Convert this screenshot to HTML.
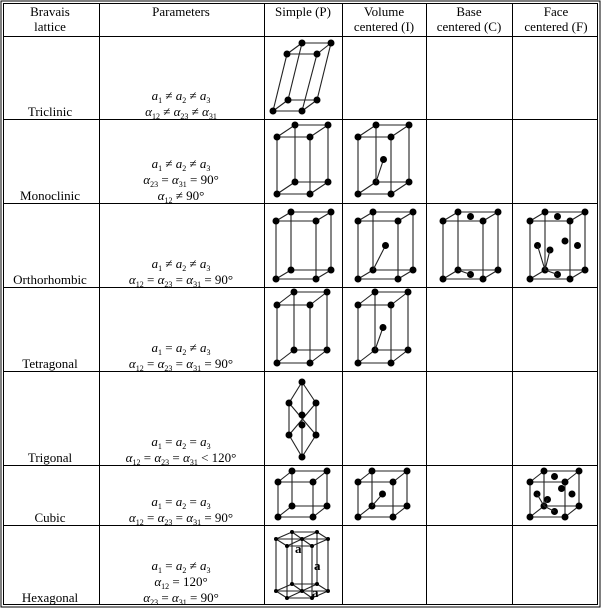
<!DOCTYPE html>
<html><head><meta charset="utf-8"><style>
html,body{margin:0;padding:0;background:#fff}
svg{display:block}
text{font-family:"Liberation Serif",serif;font-size:13px;fill:#000}
.c{text-anchor:middle}
.m{font-style:italic}
</style></head><body>
<svg id="s" width="602" height="609" viewBox="0 0 602 609">
<g id="grid" stroke="#000" fill="none">
<rect x="1" y="1" width="599" height="606" stroke-width="1"/>
<rect x="3.5" y="3.5" width="594" height="601" stroke-width="1"/>
<g stroke-width="1">
<line x1="99.5" y1="3" x2="99.5" y2="605"/><line x1="264.5" y1="3" x2="264.5" y2="605"/>
<line x1="342.5" y1="3" x2="342.5" y2="605"/><line x1="426.5" y1="3" x2="426.5" y2="605"/>
<line x1="512.5" y1="3" x2="512.5" y2="605"/>
<line x1="3" y1="36.5" x2="598" y2="36.5"/><line x1="3" y1="119.5" x2="598" y2="119.5"/>
<line x1="3" y1="203.5" x2="598" y2="203.5"/><line x1="3" y1="287.5" x2="598" y2="287.5"/>
<line x1="3" y1="371.5" x2="598" y2="371.5"/><line x1="3" y1="465.5" x2="598" y2="465.5"/>
<line x1="3" y1="525.5" x2="598" y2="525.5"/>
</g></g>
<g>
<text class="c" x="50" y="16">Bravais</text><text class="c" x="50" y="31">lattice</text>
<text class="c" x="181" y="16">Parameters</text>
<text class="c" x="303" y="16">Simple (P)</text>
<text class="c" x="384" y="16">Volume</text><text class="c" x="384" y="31">centered (I)</text>
<text class="c" x="469" y="16">Base</text><text class="c" x="469" y="31">centered (C)</text>
<text class="c" x="556" y="16">Face</text><text class="c" x="556" y="31">centered (F)</text>
</g>
<g>
<text class="c" x="50" y="116">Triclinic</text>
<text class="c" x="50" y="200">Monoclinic</text>
<text class="c" x="50" y="284">Orthorhombic</text>
<text class="c" x="50" y="368">Tetragonal</text>
<text class="c" x="50" y="462">Trigonal</text>
<text class="c" x="50" y="522">Cubic</text>
<text class="c" x="50" y="602">Hexagonal</text>
</g>
<g>
<text class="c" x="181" y="100"><tspan class="m">a</tspan><tspan font-size="8" dy="3">1</tspan><tspan dy="-3"> ≠ </tspan><tspan class="m">a</tspan><tspan font-size="8" dy="3">2</tspan><tspan dy="-3"> ≠ </tspan><tspan class="m">a</tspan><tspan font-size="8" dy="3">3</tspan></text>
<text class="c" x="181" y="116"><tspan class="m">α</tspan><tspan font-size="8" dy="3">12</tspan><tspan dy="-3"> ≠ </tspan><tspan class="m">α</tspan><tspan font-size="8" dy="3">23</tspan><tspan dy="-3"> ≠ </tspan><tspan class="m">α</tspan><tspan font-size="8" dy="3">31</tspan></text>

<text class="c" x="181" y="168"><tspan class="m">a</tspan><tspan font-size="8" dy="3">1</tspan><tspan dy="-3"> ≠ </tspan><tspan class="m">a</tspan><tspan font-size="8" dy="3">2</tspan><tspan dy="-3"> ≠ </tspan><tspan class="m">a</tspan><tspan font-size="8" dy="3">3</tspan></text>
<text class="c" x="181" y="184"><tspan class="m">α</tspan><tspan font-size="8" dy="3">23</tspan><tspan dy="-3"> = </tspan><tspan class="m">α</tspan><tspan font-size="8" dy="3">31</tspan><tspan dy="-3"> = 90°</tspan></text>
<text class="c" x="181" y="200"><tspan class="m">α</tspan><tspan font-size="8" dy="3">12</tspan><tspan dy="-3"> ≠ 90°</tspan></text>

<text class="c" x="181" y="268"><tspan class="m">a</tspan><tspan font-size="8" dy="3">1</tspan><tspan dy="-3"> ≠ </tspan><tspan class="m">a</tspan><tspan font-size="8" dy="3">2</tspan><tspan dy="-3"> ≠ </tspan><tspan class="m">a</tspan><tspan font-size="8" dy="3">3</tspan></text>
<text class="c" x="181" y="284"><tspan class="m">α</tspan><tspan font-size="8" dy="3">12</tspan><tspan dy="-3"> = </tspan><tspan class="m">α</tspan><tspan font-size="8" dy="3">23</tspan><tspan dy="-3"> = </tspan><tspan class="m">α</tspan><tspan font-size="8" dy="3">31</tspan><tspan dy="-3"> = 90°</tspan></text>

<text class="c" x="181" y="352"><tspan class="m">a</tspan><tspan font-size="8" dy="3">1</tspan><tspan dy="-3"> = </tspan><tspan class="m">a</tspan><tspan font-size="8" dy="3">2</tspan><tspan dy="-3"> ≠ </tspan><tspan class="m">a</tspan><tspan font-size="8" dy="3">3</tspan></text>
<text class="c" x="181" y="368"><tspan class="m">α</tspan><tspan font-size="8" dy="3">12</tspan><tspan dy="-3"> = </tspan><tspan class="m">α</tspan><tspan font-size="8" dy="3">23</tspan><tspan dy="-3"> = </tspan><tspan class="m">α</tspan><tspan font-size="8" dy="3">31</tspan><tspan dy="-3"> = 90°</tspan></text>

<text class="c" x="181" y="446"><tspan class="m">a</tspan><tspan font-size="8" dy="3">1</tspan><tspan dy="-3"> = </tspan><tspan class="m">a</tspan><tspan font-size="8" dy="3">2</tspan><tspan dy="-3"> = </tspan><tspan class="m">a</tspan><tspan font-size="8" dy="3">3</tspan></text>
<text class="c" x="181" y="462"><tspan class="m">α</tspan><tspan font-size="8" dy="3">12</tspan><tspan dy="-3"> = </tspan><tspan class="m">α</tspan><tspan font-size="8" dy="3">23</tspan><tspan dy="-3"> = </tspan><tspan class="m">α</tspan><tspan font-size="8" dy="3">31</tspan><tspan dy="-3"> &lt; 120°</tspan></text>

<text class="c" x="181" y="506"><tspan class="m">a</tspan><tspan font-size="8" dy="3">1</tspan><tspan dy="-3"> = </tspan><tspan class="m">a</tspan><tspan font-size="8" dy="3">2</tspan><tspan dy="-3"> = </tspan><tspan class="m">a</tspan><tspan font-size="8" dy="3">3</tspan></text>
<text class="c" x="181" y="522"><tspan class="m">α</tspan><tspan font-size="8" dy="3">12</tspan><tspan dy="-3"> = </tspan><tspan class="m">α</tspan><tspan font-size="8" dy="3">23</tspan><tspan dy="-3"> = </tspan><tspan class="m">α</tspan><tspan font-size="8" dy="3">31</tspan><tspan dy="-3"> = 90°</tspan></text>

<text class="c" x="181" y="570"><tspan class="m">a</tspan><tspan font-size="8" dy="3">1</tspan><tspan dy="-3"> = </tspan><tspan class="m">a</tspan><tspan font-size="8" dy="3">2</tspan><tspan dy="-3"> ≠ </tspan><tspan class="m">a</tspan><tspan font-size="8" dy="3">3</tspan></text>
<text class="c" x="181" y="586"><tspan class="m">α</tspan><tspan font-size="8" dy="3">12</tspan><tspan dy="-3"> = 120°</tspan></text>
<text class="c" x="181" y="602"><tspan class="m">α</tspan><tspan font-size="8" dy="3">23</tspan><tspan dy="-3"> = </tspan><tspan class="m">α</tspan><tspan font-size="8" dy="3">31</tspan><tspan dy="-3"> = 90°</tspan></text>
</g>
<g id="draw"></g>
<g>
<text x="295" y="553" font-size="5" font-weight="bold">a</text>
<text x="314" y="570" font-size="5" font-weight="bold">a</text>
<text x="312" y="597" font-size="5" font-weight="bold">a</text>
</g>
</svg>
<script>
const NS='http://www.w3.org/2000/svg';
const G=document.getElementById('draw');
function ln(a,b,c,d){const e=document.createElementNS(NS,'line');e.setAttribute('x1',a);e.setAttribute('y1',b);e.setAttribute('x2',c);e.setAttribute('y2',d);e.setAttribute('stroke','#222');e.setAttribute('stroke-width','1.1');G.appendChild(e);}
function dot(x,y,r){const e=document.createElementNS(NS,'circle');e.setAttribute('cx',x);e.setAttribute('cy',y);e.setAttribute('r',r||3.5);e.setAttribute('fill','#000');G.appendChild(e);}
function poly(pts){for(let i=0;i<pts.length;i++){const a=pts[i],b=pts[(i+1)%pts.length];ln(a[0],a[1],b[0],b[1]);}}
function box(fx,fy,w,h,dx,dy,type){
  const F=[[fx,fy],[fx+w,fy],[fx+w,fy+h],[fx,fy+h]];
  const B=F.map(p=>[p[0]+dx,p[1]+dy]);
  poly(F);poly(B);for(let i=0;i<4;i++)ln(F[i][0],F[i][1],B[i][0],B[i][1]);
  F.concat(B).forEach(p=>dot(p[0],p[1]));
  const o=[fx+dx,fy+h+dy];
  if(type==='I'){const c=[fx+w/2+dx/2,fy+h/2+dy/2];ln(o[0],o[1],c[0],c[1]);dot(c[0],c[1]);}
  if(type==='C'){dot(fx+w/2+dx/2,fy+dy/2);dot(fx+w/2+dx/2,fy+h+dy/2);ln(o[0],o[1],fx+w/2+dx/2,fy+h+dy/2);}
  if(type==='F'){
    [[fx+w/2+dx/2,fy+dy/2],[fx+w/2+dx/2,fy+h+dy/2],[fx+w/2,fy+h/2],[fx+w/2+dx,fy+h/2+dy],[fx+dx/2,fy+h/2+dy/2],[fx+w+dx/2,fy+h/2+dy/2]].forEach(p=>{dot(p[0],p[1]);});
    ln(o[0],o[1],fx+dx/2,fy+h/2+dy/2);ln(o[0],o[1],fx+w/2,fy+h/2);ln(o[0],o[1],fx+w/2+dx/2,fy+h+dy/2);
  }
}
// triclinic
poly([[287,54],[317,54],[331,43],[302,43]]);poly([[273,111],[302,111],[317,100],[288,100]]);
ln(273,111,287,54);ln(302,111,317,54);ln(288,100,302,43);ln(317,100,331,43);
[[302,43],[331,43],[287,54],[317,54],[288,100],[317,100],[273,111],[302,111]].forEach(p=>dot(p[0],p[1]));
// monoclinic
box(277,137,33,57,18,-12,'P');box(358,137,33,57,18,-12,'I');
// orthorhombic
box(276,221,40,58,15,-9,'P');box(358,221,40,58,15,-9,'I');box(443,221,40,58,15,-9,'C');box(530,221,40,58,15,-9,'F');
// tetragonal
box(277,305,33,58,17,-13,'P');box(358,305,33,58,17,-13,'I');
// trigonal
const T=[[302,382],[289,403],[316,403],[302,415],[302,425],[289,435],[316,435],[302,457]];
ln(302,382,289,403);ln(302,382,316,403);ln(302,382,302,415);ln(289,403,289,435);ln(316,403,316,435);
ln(302,415,302,425);ln(289,403,316,435);ln(316,403,289,435);ln(289,435,302,457);ln(316,435,302,457);ln(302,425,302,457);
T.forEach(p=>dot(p[0],p[1]));
// cubic
box(278,482,35,35,14,-11,'P');box(358,482,35,35,14,-11,'I');box(530,482,35,35,14,-11,'F');
// hexagonal
function hex(cx,cy){return [[cx-26,cy+1],[cx-10,cy-6],[cx+15,cy-6],[cx+26,cy+1],[cx+10,cy+8],[cx-15,cy+8]];}
const H1=hex(302,538),H2=hex(302,590);
poly(H1);poly(H2);
for(let i=0;i<6;i++){ln(H1[i][0],H1[i][1],H2[i][0],H2[i][1]);}
ln(H1[0][0],H1[0][1],H1[3][0],H1[3][1]);ln(H1[1][0],H1[1][1],H1[4][0],H1[4][1]);ln(H1[2][0],H1[2][1],H1[5][0],H1[5][1]);
ln(H2[0][0],H2[0][1],H2[3][0],H2[3][1]);ln(H2[1][0],H2[1][1],H2[4][0],H2[4][1]);ln(H2[2][0],H2[2][1],H2[5][0],H2[5][1]);
ln(302,539,302,591);
H1.concat(H2).forEach(p=>dot(p[0],p[1],2));dot(302,539,2);dot(302,591,2);
</script>
</body></html>
